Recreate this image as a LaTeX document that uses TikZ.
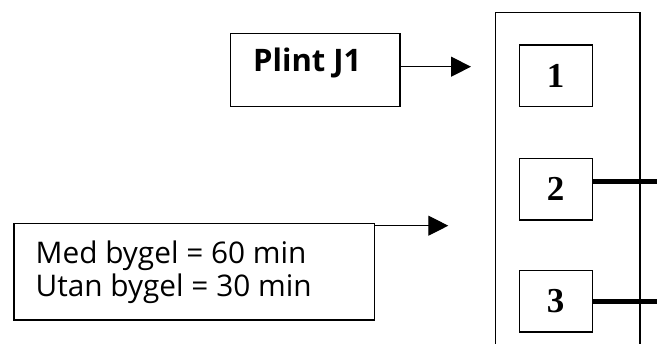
\documentclass[tikz,border=0pt]{standalone}
\usepackage{fontspec}
\setmainfont{Open Sans}
\newfontfamily\numfont{Liberation Serif}
\usetikzlibrary{arrows.meta}
\begin{document}
\begin{tikzpicture}[x=1pt,y=-1pt,line width=1.3pt,
    box/.style={draw,rectangle,inner sep=0pt},
    pin/.style={box,minimum width=73pt,minimum height=61.5pt,font=\numfont\bfseries\fontsize{35}{35}\selectfont},
    feed/.style={line width=1.2pt,-{Triangle[length=20pt,width=20pt]}},
    strap/.style={line width=4.6pt}]
    \clip (0,0) rectangle (657,344);
    \fill[white] (0,0) rectangle (657,344);

    % plint med tre kontakter
    \draw (495.3,12.7) rectangle (640,360);
    \node[pin] (k1) at (555.7,75.8) {1};
    \node[pin] (k2) at (555.7,189.3) {2};
    \node[pin] (k3) at (555.7,301.3) {3};
    \coordinate (u2) at (657,181.3);
    \coordinate (u3) at (657,301.7);
    \draw[strap] (u2 -| k2.east) -- (u2);
    \draw[strap] (u3 -| k3.east) -- (u3);

    % etikett
    \node[box,minimum width=169.3pt,minimum height=73.4pt] (plint) at (315.3,70) {};
    \node[anchor=base west,inner sep=0pt,font=\bfseries\fontsize{31}{31}\selectfont] (plinttext) at (252.5,71.7) {Plint J1};
    \coordinate (p1) at (471,66.7);
    \draw[feed] (plint.east |- p1) -- (p1);

    % tid
    \node[box,minimum width=360.3pt,minimum height=96.7pt] (tid) at (194.2,271.7) {};
    \node[anchor=base west,inner sep=0pt,align=left,font=\fontsize{29.8}{33.4}\selectfont] (tidtext) at (35,296.7) {Med bygel = 60 min\\Utan bygel = 30 min};
    \coordinate (p2) at (448.3,225.7);
    \draw[feed] (tid.east |- p2) -- (p2);
\end{tikzpicture}
\end{document}
